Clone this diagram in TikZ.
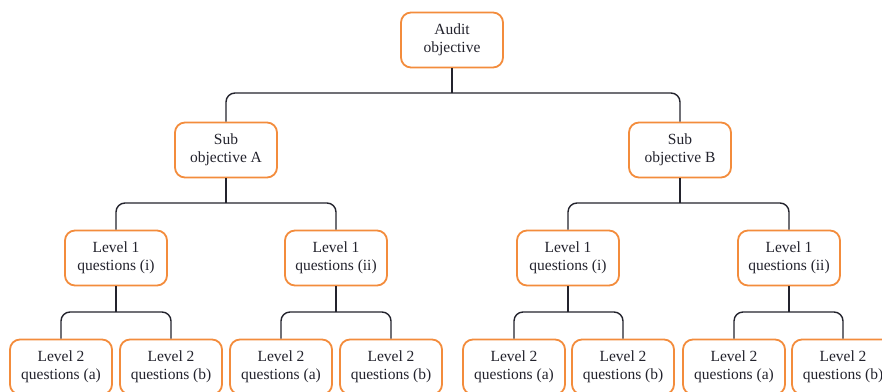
\documentclass[tikz,border=0pt]{standalone}
\usepackage{fontspec}
\setmainfont{Liberation Serif}
\definecolor{boxorange}{RGB}{243,140,60}
\definecolor{inkdark}{RGB}{35,35,45}
\begin{document}
\begin{tikzpicture}[x=1pt,y=-1pt,
  qbox/.style={draw=boxorange, line width=1.8pt, rounded corners=10pt, fill=white,
    minimum width=102pt, minimum height=55pt, align=center, inner sep=2pt,
    font=\fontsize{15.5}{17.5}\selectfont, text=inkdark},
  conn/.style={draw=inkdark, line width=1.4pt, rounded corners=9pt}]
\useasboundingbox (0,0) rectangle (882,391);
\clip (0,0) rectangle (882,391);

% root and sub-objectives
\node[qbox] (top) at (452,40) {Audit\\objective};
\node[qbox] (sa) at (226,150) {Sub\\objective A};
\node[qbox] (sb) at (680,150) {Sub\\objective B};

% level 1 questions
\node[qbox] (a1) at (116,258) {Level 1\\questions (i)};
\node[qbox] (a2) at (336,258) {Level 1\\questions (ii)};
\node[qbox] (b1) at (568,258) {Level 1\\questions (i)};
\node[qbox] (b2) at (789,258) {Level 1\\questions (ii)};

% level 2 questions
\node[qbox] (a1a) at (61,367) {Level 2\\questions (a)};
\node[qbox] (a1b) at (171,367) {Level 2\\questions (b)};
\node[qbox] (a2a) at (281,367) {Level 2\\questions (a)};
\node[qbox] (a2b) at (391,367) {Level 2\\questions (b)};
\node[qbox] (b1a) at (514,367) {Level 2\\questions (a)};
\node[qbox] (b1b) at (623,367) {Level 2\\questions (b)};
\node[qbox] (b2a) at (734,367) {Level 2\\questions (a)};
\node[qbox] (b2b) at (843,367) {Level 2\\questions (b)};

% junction points of the branches
\coordinate (jtop) at (452,93);
\coordinate (jsa) at (226,203);
\coordinate (jsb) at (680,203);
\coordinate (ja1) at (116,312);
\coordinate (ja2) at (336,312);
\coordinate (jb1) at (568,312);
\coordinate (jb2) at (789,312);

% branches
\draw[conn] (top.south) -- (jtop);
\draw[conn] (sa.north) |- (jtop) -| (sb.north);
\draw[conn] (sa.south) -- (jsa);
\draw[conn] (a1.north) |- (jsa) -| (a2.north);
\draw[conn] (sb.south) -- (jsb);
\draw[conn] (b1.north) |- (jsb) -| (b2.north);
\draw[conn] (a1.south) -- (ja1);
\draw[conn] (a1a.north) |- (ja1) -| (a1b.north);
\draw[conn] (a2.south) -- (ja2);
\draw[conn] (a2a.north) |- (ja2) -| (a2b.north);
\draw[conn] (b1.south) -- (jb1);
\draw[conn] (b1a.north) |- (jb1) -| (b1b.north);
\draw[conn] (b2.south) -- (jb2);
\draw[conn] (b2a.north) |- (jb2) -| (b2b.north);
\end{tikzpicture}
\end{document}
